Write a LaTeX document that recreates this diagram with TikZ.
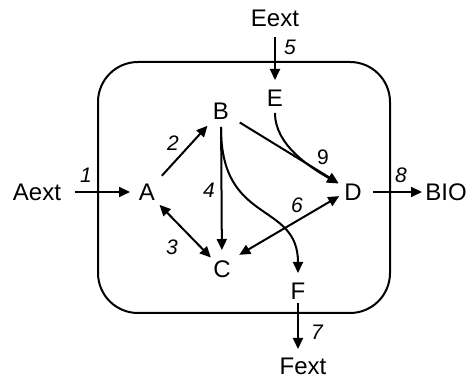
\documentclass[tikz,border=0pt]{standalone}
\usepackage{fontspec}
\setmainfont{Liberation Sans}
\usetikzlibrary{arrows.meta}
\begin{document}
\begin{tikzpicture}[x=1pt,y=1pt,
  txt/.style={font=\fontsize{24}{28}\selectfont, inner sep=0pt},
  lbl/.style={font=\fontsize{21}{24}\selectfont\itshape, inner sep=0pt},
  lblup/.style={font=\fontsize{21}{24}\selectfont, inner sep=0pt},
  conn/.style={line width=2pt, -{Triangle[length=11pt,width=10pt]}},
  both/.style={line width=2pt, {Triangle[length=11pt,width=10pt]}-{Triangle[length=11pt,width=10pt]}},
  cellbox/.style={line width=2pt, rounded corners=40pt}]
\useasboundingbox (0,0) rectangle (472,382);
% compartment
\draw[cellbox] (98,69) rectangle (390,320);
% nodes
\node[txt] (Aext) at (37,190) {Aext};
\node[txt] (A) at (147,190) {A};
\node[txt] (B) at (221,271) {B};
\node[txt] (C) at (222,113) {C};
\node[txt] (D) at (353,190) {D};
\node[txt] (E) at (275,284) {E};
\node[txt] (F) at (298,91) {F};
\node[txt] (Eext) at (275,364) {Eext};
\node[txt] (Fext) at (303,16) {Fext};
\node[txt] (BIO) at (446,190) {BIO};
% connectors
\draw[conn, shorten <=38pt, shorten >=17pt] (Aext.center) -- (A.center);
\draw[conn, shorten <=22pt, shorten >=20pt] (A.center) -- (B.center);
\draw[both, shorten <=18pt, shorten >=16pt] (A.center) -- (C.center);
\draw[conn, shorten <=16pt, shorten >=19pt] (B.center) -- (C.center);
\draw[conn, shorten <=19pt, shorten >=18pt] (Eext.center) -- (E.center);
\draw[both, shorten <=20pt, shorten >=16pt] ([yshift=4pt]C.center) -- ([yshift=4pt]D.center);
\draw[conn, shorten <=12pt, shorten >=17pt] (F.center) -- (F.center |- Fext.center);
\draw[conn, shorten <=20pt, shorten >=24pt] (D.center) -- (BIO.center);
\draw[conn, shorten <=22pt, shorten >=17pt] (B.center) -- (D.center);
\draw[conn, shorten <=15pt, shorten >=17pt] (E.center) to[out=-90, in=150] (D.center);
\draw[conn, shorten <=17pt, shorten >=18pt] (B.center) to[out=-90, in=90, out looseness=1.5, in looseness=1.18] (F.center);
% labels
\node[lbl] (l1) at (86,207) {1};
\node[lbl] (l2) at (173,239) {2};
\node[lbl] (l3) at (172,135) {3};
\node[lbl] (l4) at (209,192) {4};
\node[lbl] (l5) at (290,335) {5};
\node[lbl] (l6) at (297,177) {6};
\node[lbl] (l7) at (317,50) {7};
\node[lbl] (l8) at (401,207) {8};
\node[lblup] (l9) at (323,225) {9};
\end{tikzpicture}
\end{document}
